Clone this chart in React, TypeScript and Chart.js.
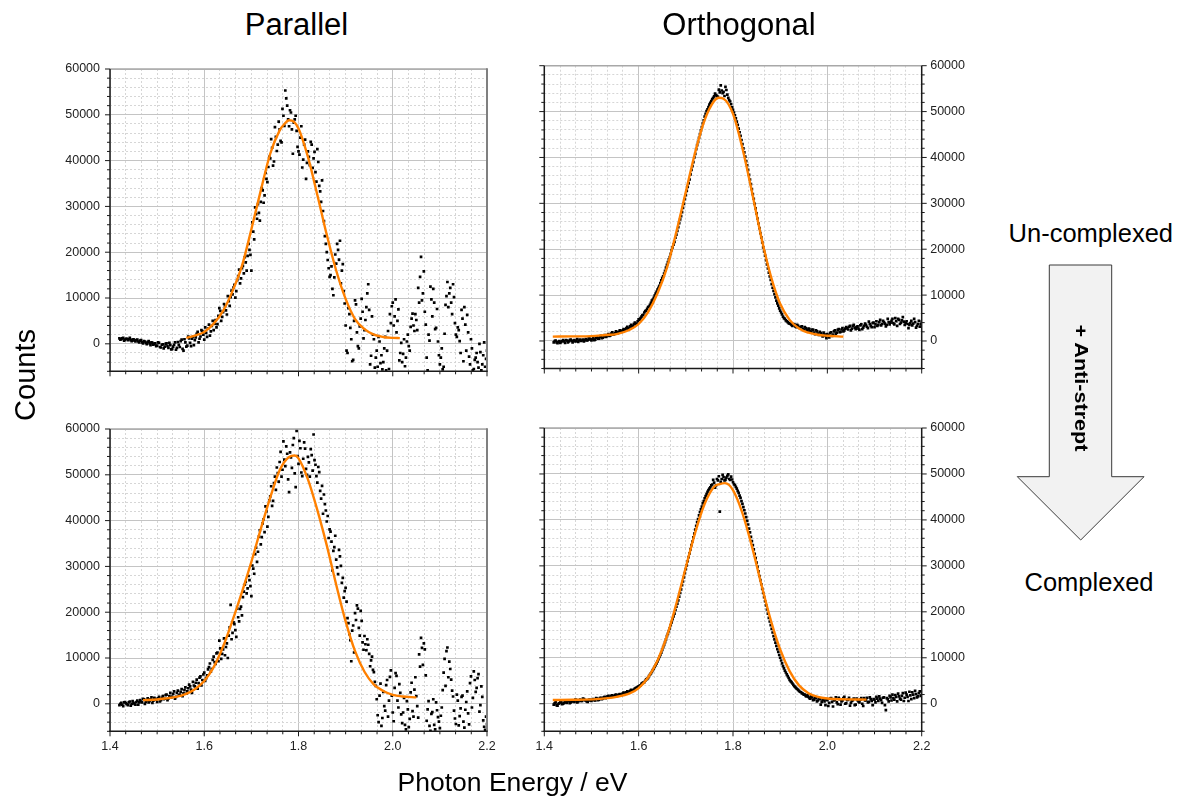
import React, { useEffect, useRef } from "react";
import { Chart, registerables } from "chart.js";

Chart.register(...registerables);

// ---------------- DATA ----------------
// Scan A energies (eV)
const energies = [
  1.420, 1.424, 1.428, 1.432, 1.436, 1.440, 1.444, 1.448, 1.452, 1.456,
  1.460, 1.464, 1.468, 1.472, 1.476, 1.480, 1.484, 1.488, 1.492, 1.496,
  1.500, 1.504, 1.508, 1.512, 1.516, 1.520, 1.524, 1.528, 1.532, 1.536,
  1.540, 1.544, 1.548, 1.552, 1.556, 1.560, 1.564, 1.568, 1.572, 1.576,
  1.580, 1.584, 1.588, 1.592, 1.596, 1.600, 1.604, 1.608, 1.612, 1.616,
  1.620, 1.624, 1.628, 1.632, 1.636, 1.640, 1.644, 1.648, 1.652, 1.656,
  1.660, 1.664, 1.668, 1.672, 1.676, 1.680, 1.684, 1.688, 1.692, 1.696,
  1.700, 1.704, 1.708, 1.712, 1.716, 1.720, 1.724, 1.728, 1.732, 1.736,
  1.740, 1.744, 1.748, 1.752, 1.756, 1.760, 1.764, 1.768, 1.772, 1.776,
  1.780, 1.784, 1.788, 1.792, 1.796, 1.800, 1.804, 1.808, 1.812, 1.816,
  1.820, 1.824, 1.828, 1.832, 1.836, 1.840, 1.844, 1.848, 1.852, 1.856,
  1.860, 1.864, 1.868, 1.872, 1.876, 1.880, 1.884, 1.888, 1.892, 1.896,
  1.900, 1.904, 1.908, 1.912, 1.916, 1.920, 1.924, 1.928, 1.932, 1.936,
  1.940, 1.944, 1.948, 1.952, 1.956, 1.960, 1.964, 1.968, 1.972, 1.976,
  1.980, 1.984, 1.988, 1.992, 1.996, 2.000, 2.004, 2.008, 2.012, 2.016,
  2.020, 2.024, 2.028, 2.032, 2.036, 2.040, 2.044, 2.048, 2.052, 2.056,
  2.060, 2.064, 2.068, 2.072, 2.076, 2.080, 2.084, 2.088, 2.092, 2.096,
  2.100, 2.104, 2.108, 2.112, 2.116, 2.120, 2.124, 2.128, 2.132, 2.136,
  2.140, 2.144, 2.148, 2.152, 2.156, 2.160, 2.164, 2.168, 2.172, 2.176,
  2.180, 2.184, 2.188, 2.192, 2.196, 2.200,
];

// Scan B energies (eV), interleaved with scan A
const energiesB = [
  1.422, 1.426, 1.430, 1.434, 1.438, 1.442, 1.446, 1.450, 1.454, 1.458,
  1.462, 1.466, 1.470, 1.474, 1.478, 1.482, 1.486, 1.490, 1.494, 1.498,
  1.502, 1.506, 1.510, 1.514, 1.518, 1.522, 1.526, 1.530, 1.534, 1.538,
  1.542, 1.546, 1.550, 1.554, 1.558, 1.562, 1.566, 1.570, 1.574, 1.578,
  1.582, 1.586, 1.590, 1.594, 1.598, 1.602, 1.606, 1.610, 1.614, 1.618,
  1.622, 1.626, 1.630, 1.634, 1.638, 1.642, 1.646, 1.650, 1.654, 1.658,
  1.662, 1.666, 1.670, 1.674, 1.678, 1.682, 1.686, 1.690, 1.694, 1.698,
  1.702, 1.706, 1.710, 1.714, 1.718, 1.722, 1.726, 1.730, 1.734, 1.738,
  1.742, 1.746, 1.750, 1.754, 1.758, 1.762, 1.766, 1.770, 1.774, 1.778,
  1.782, 1.786, 1.790, 1.794, 1.798, 1.802, 1.806, 1.810, 1.814, 1.818,
  1.822, 1.826, 1.830, 1.834, 1.838, 1.842, 1.846, 1.850, 1.854, 1.858,
  1.862, 1.866, 1.870, 1.874, 1.878, 1.882, 1.886, 1.890, 1.894, 1.898,
  1.902, 1.906, 1.910, 1.914, 1.918, 1.922, 1.926, 1.930, 1.934, 1.938,
  1.942, 1.946, 1.950, 1.954, 1.958, 1.962, 1.966, 1.970, 1.974, 1.978,
  1.982, 1.986, 1.990, 1.994, 1.998, 2.002, 2.006, 2.010, 2.014, 2.018,
  2.022, 2.026, 2.030, 2.034, 2.038, 2.042, 2.046, 2.050, 2.054, 2.058,
  2.062, 2.066, 2.070, 2.074, 2.078, 2.082, 2.086, 2.090, 2.094, 2.098,
  2.102, 2.106, 2.110, 2.114, 2.118, 2.122, 2.126, 2.130, 2.134, 2.138,
  2.142, 2.146, 2.150, 2.154, 2.158, 2.162, 2.166, 2.170, 2.174, 2.178,
  2.182, 2.186, 2.190, 2.194, 2.198,
];

// Parallel, un-complexed (top left)
const parallelUncomplexed = [
  1200, 1000, 1300, 900, 1100, 1000, 800, 900, 700, 800,
  500, 700, 300, 600, 200, 400, 100, 300, -200, 100,
  -400, 200, -800, -100, -600, 100, -900, -300, -1100, -200,
  -1300, 400, -700, 900, -1500, 300, -400, 1200, -500, 1500,
  800, 2200, 300, 1600, 2800, 900, 2400, 3300, 1800, 3900,
  3000, 5200, 4300, 7800, 5000, 6900, 8200, 6400, 9300, 10200,
  10800, 12900, 11500, 14800, 13200, 16500, 15400, 17800, 19200, 20500,
  16000, 24500, 29800, 27300, 28600, 31000, 33500, 32400, 36000, 38600,
  40500, 42800, 39800, 45200, 43500, 46800, 44000, 49800, 55300, 52000,
  47500, 50500, 41500, 49000, 46500, 42000, 45000, 38500, 43500, 36000,
  42000, 39000, 43500, 40500, 37500, 42500, 34500, 31000, 29000, 23500,
  20000, 16500, 15000, 12000, 14500, 17500, 20500, 22500, 16000, 11500,
  4000, -2000, 6500, 1000, -3500, 9500, 2500, -1000, 5500, 7000,
  3000, 8000, 13000, -4500, 6000, 1000, -3000, -5000, 500, -2500,
  -4000, 1500, -1500, -5500, 4500, 9000, 6000, 2500, 7500, -2000,
  -4000, 1000, -3000, 2000, -1500, 5500, 4000, 6500, 3000, 9000,
  19000, 11000, 7000, -3000, 2000, 12500, 6000, 9000, 3500, 500,
  -4500, -1000, -5000, 8500, 13500, 11000, 9000, 13000, 4500, 1500,
  3000, -2000, 5500, 8000, -1500, 2500, -4500, -1000, -5500, -3000,
  -4000, 0, -5800, -2500, -5000, -1500,
];
const parallelUncomplexedB = [
  900, 1200, 700, 1100, 800, 1300, 600, 1000, 500, 900,
  300, 800, 100, 500, -100, 600, -300, 200, 0, -500,
  300, -700, -200, -1000, 0, -500, 200, -1200, -600, 300,
  -900, -200, 600, -1100, 1000, -600, 1600, 200, 1100, -300,
  1400, 2600, 1100, 3000, 2000, 3600, 1500, 4200, 2700, 5000,
  4400, 3600, 6100, 7200, 5900, 8700, 7300, 10400, 8300, 11600,
  12300, 10100, 13900, 16200, 14300, 17000, 18900, 16000, 21800, 19400,
  26500, 22800, 28300, 30500, 26900, 34000, 30800, 37300, 35300, 40800,
  44700, 38900, 47300, 42100, 48500, 44300, 51300, 47600, 53600, 49000,
  51000, 46800, 48300, 49800, 43000, 41300, 47500, 40200, 44600, 39500,
  40800, 44100, 38400, 41900, 35400, 39700, 33300, 35700, 26800, 21800,
  18300, 14600, 16900, 10600, 19500, 21800, 18400, 13200, 17400, 8800,
  -1500, 7800, 3500, -3800, 5000, 8600, -500, 3800, 9800, 1200,
  5200, 11000, 7400, -2600, 2000, -5200, -1500, 1500, -4200, -5600,
  -1000, -5800, 2800, 6500, 8200, 4000, 9700, 5000, -3600, 200,
  -2200, -4900, 500, -500, 3700, 6600, 2800, 5200, 12200, 14600,
  9500, 15800, 4200, -5800, 700, 9700, 12000, 3200, 7600, -2500,
  -3000, -5600, 2200, 10400, 8000, 12200, 6500, 10200, 2000, 3600,
  600, 7400, -3800, 4200, 6300, -2800, 1000, -5800, -3500, -2000,
  -5200, -1800, -4500, 300, -3300,
];

// Orthogonal, un-complexed (top right)
const orthogonalUncomplexed = [
  -300, 100, -500, 0, -200, 200, -400, 100, -100, 300,
  -300, 200, 0, -200, 300, 100, -100, 400, 200, 500,
  100, 600, 300, 800, 500, 1100, 700, 1300, 1000, 1500,
  1200, 1900, 1500, 2100, 1700, 2300, 2000, 2600, 2400, 3100,
  2800, 3500, 3300, 4000, 3800, 4700, 5000, 5600, 6200, 6600,
  7400, 7900, 8800, 9400, 10300, 11200, 12000, 13200, 14100, 15300,
  16600, 17800, 19000, 20400, 21600, 23200, 24800, 26500, 28100, 29900,
  31800, 33600, 35200, 37300, 39000, 40800, 42700, 44300, 45900, 47400,
  48900, 50100, 51000, 51900, 52700, 53300, 53600, 53200, 54200, 54600,
  54300, 55400, 53700, 52500, 51600, 50400, 49200, 47800, 46300, 44700,
  42900, 41100, 39200, 37300, 35200, 33100, 31000, 28900, 26700, 24600,
  22600, 20400, 18600, 16700, 14900, 13300, 11600, 10200, 8800, 7700,
  6600, 5800, 5000, 4500, 4100, 3800, 3500, 3700, 3200, 3500,
  2900, 3100, 2600, 3000, 2400, 2700, 2100, 2500, 1800, 2300,
  1600, 2000, 1300, 1800, 1100, 1500, 800, 1900, 1400, 2300,
  1800, 2600, 2000, 2800, 2300, 3000, 2500, 3300, 2700, 3500,
  2600, 3200, 2400, 3600, 2900, 3800, 3100, 4200, 3300, 3900,
  3000, 4300, 3500, 4600, 3700, 4100, 3200, 4800, 3600, 4400,
  3900, 5000, 3300, 4600, 4000, 5200, 3500, 4300, 2800, 3900,
  3400, 4800, 2900, 3700, 3100, 4200,
];
const orthogonalUncomplexedB = [
  0, -300, -200, -400, 0, -100, 200, -300, 200, 0,
  100, -100, 400, 100, 0, 300, 200, 100, 500, 300,
  400, 200, 700, 500, 900, 600, 1000, 900, 1300, 1100,
  1600, 1400, 1700, 1900, 2000, 2100, 2300, 2400, 2800, 2700,
  3200, 3000, 3700, 3600, 4300, 4600, 5300, 5700, 6500, 7000,
  7500, 8300, 9000, 9900, 10700, 11600, 12600, 13700, 14700, 16000,
  17200, 18300, 19800, 21000, 22500, 24000, 25700, 27200, 29000, 30900,
  32700, 34400, 36300, 38100, 40000, 41800, 43400, 45100, 46600, 48100,
  49500, 50500, 51500, 52300, 53000, 53900, 53400, 54800, 55700, 54000,
  53400, 54700, 53000, 52200, 50900, 49800, 48500, 47100, 45500, 43800,
  42000, 40200, 38300, 36200, 34200, 32000, 29900, 27800, 25600, 23500,
  21500, 19500, 17600, 15800, 14100, 12400, 10900, 9500, 8200, 7100,
  6200, 5300, 4800, 4300, 3900, 3700, 3300, 3600, 3000, 3300,
  2800, 3200, 2400, 2800, 2200, 2600, 1900, 2400, 1500, 2100,
  1300, 1700, 1000, 1500, 600, 1200, 1700, 1100, 2100, 1600,
  2400, 1900, 2500, 2100, 2700, 2800, 3100, 2300, 3300, 2900,
  3000, 2700, 3400, 2600, 3300, 3500, 2800, 3700, 3000, 4000,
  3600, 3300, 4100, 3400, 4400, 3800, 3500, 4100, 4000, 4800,
  3600, 4300, 4800, 3700, 4500, 4200, 4000, 3700, 3500, 4400,
  3800, 4100, 3300, 4400, 3600,
];

// Parallel, complexed (bottom left)
const parallelComplexed = [
  -300, 200, -500, 400, -100, 300, -400, 600, 0, 400,
  -200, 800, 300, 1000, 400, 1200, 600, 1400, 700, 1100,
  400, 1500, 800, 1700, 1100, 2000, 1200, 2400, 1600, 2700,
  1500, 2900, 2000, 3200, 2300, 3600, 2700, 4200, 3100, 4800,
  3800, 5300, 4500, 6000, 5200, 6800, 5600, 7500, 8800, 7600,
  10300, 8700, 11200, 13800, 9800, 11900, 10600, 13200, 14900, 21600,
  15500, 17400, 14600, 18900, 20700, 19300, 24500, 26600, 25200, 27000,
  23500, 29500, 32700, 31000, 36500, 34800, 39400, 37500, 42000, 40800,
  45300, 43200, 48200, 46700, 50400, 52800, 49600, 57300, 51900, 54600,
  46200, 53800, 56500, 50300, 59600, 52400, 55800, 49700, 57100, 51300,
  53900, 49600, 54300, 58800, 52200, 48300, 50600, 44800, 41500, 43600,
  39800, 36200, 37600, 29100, 34200, 31500, 28300, 32200, 26400, 23200,
  25300, 18700, 15200, 9300, 17100, 19800, 21500, 16600, 20300, 13400,
  14800, 11700, 12900, 8200, 10300, 6900, 3900, -2500, 1800, -4800,
  2600, -1500, 5200, 700, 7300, -1900, 3500, 6100, -800, 2400,
  -4200, 1300, -5600, -1200, -3300, 4600, -2800, 5800, -500, 10800,
  14400, 8500, 11900, -3700, 600, -5900, -1800, -4600, 300, -2900,
  -5300, -800, 6800, 3900, 12300, 9200, 5300, 1600, -3200, 2000,
  -4700, -1000, 1800, -5200, 400, -2100, 4500, -800, 7100, 2600,
  5600, -1700, 3800, -3600, -5700, -4400,
];
const parallelComplexedB = [
  0, -200, 300, 100, -300, 500, 0, 200, -200, 700,
  300, 500, 1100, 0, 800, 300, 1000, 200, 1300, 900,
  1200, 500, 1300, 1000, 1900, 800, 1700, 1400, 2200, 1100,
  2400, 1800, 2600, 1700, 3000, 2200, 3400, 3800, 2400, 4000,
  4600, 3300, 5700, 4000, 6400, 5000, 6200, 8000, 7000, 9600,
  9100, 11000, 9300, 12100, 10900, 14300, 12400, 10000, 16700, 14100,
  17800, 16100, 20800, 18000, 21200, 23300, 26000, 24100, 27900, 25700,
  30200, 28400, 34100, 33200, 37900, 36400, 40300, 43100, 38700, 44400,
  47500, 44300, 49600, 51600, 48500, 55000, 51100, 53300, 56200, 49000,
  54900, 51500, 58000, 47300, 54100, 57400, 50500, 53500, 55700, 50000,
  52700, 55600, 50900, 53200, 49700, 51700, 46500, 47600, 45700, 42200,
  41000, 38100, 35400, 33400, 36700, 29800, 33600, 30100, 27500, 24600,
  22300, 17600, 13900, 16000, 11200, 18300, 20800, 14900, 18100, 11800,
  13000, 14100, 10900, 9500, 7400, 4800, 1000, -4000, 4400, -3100,
  -500, 4100, -2800, 5900, 1800, -3800, 6700, 700, 4300, -2300,
  -1900, -4600, 600, -5100, 2500, -1600, 3100, 1700, -3000, 8100,
  12200, 13200, 6200, -1200, -4800, -2200, 1000, -5600, -1400, -3900,
  -2600, 3000, 9800, 11500, 5800, 7600, 2900, -1500, -4400, 700,
  -2700, 1500, -3900, -1300, 2700, -4500, 6000, 1300, 5200, 3500,
  6500, -300, 1500, -5000, -2800,
];

// Orthogonal, complexed (bottom right)
const orthogonalComplexed = [
  -200, 300, -400, 100, 400, 0, 500, 200, 600, 300,
  700, 400, 800, 500, 900, 600, 1000, 700, 400, 900,
  600, 1000, 700, 1100, 900, 1300, 1100, 1500, 1300, 1700,
  1500, 1800, 1600, 2000, 1800, 2100, 1900, 2400, 2200, 2700,
  2600, 3000, 2900, 3300, 3500, 3800, 4000, 4500, 4700, 5300,
  5600, 6300, 6900, 7600, 8400, 9200, 10200, 11100, 12300, 13400,
  14700, 15800, 17100, 18400, 19600, 21100, 22500, 24100, 25800, 27500,
  29300, 31000, 32700, 34500, 36200, 37900, 39500, 41000, 42300, 43600,
  44700, 45600, 46500, 47100, 47700, 48100, 47500, 48600, 41800, 48900,
  49300, 48700, 49600, 48900, 49400, 48200, 47600, 46800, 45900, 44800,
  43500, 42100, 40600, 39000, 37300, 35400, 33600, 31700, 29800, 27800,
  26000, 24100, 22300, 20500, 18700, 17100, 15500, 14000, 12600, 11300,
  10000, 8800, 7700, 6800, 6000, 5200, 4700, 4100, 3600, 3200,
  2800, 2500, 2200, 2000, 1600, 1500, 1100, 1400, 900, 1200,
  700, 1000, 400, 1100, -300, 800, 200, 1200, -600, 900,
  300, 1300, -200, 700, 1500, 100, 900, -400, 600, 1100,
  -200, 800, 300, 1200, -500, 700, 1300, 400, 1000, -300,
  900, 1500, 600, 1100, 200, 1400, -1400, 1000, 1700, 700,
  1200, 1900, 500, 1600, 900, 2300, 1300, 2000, 600, 1800,
  2500, 1200, 2100, 1600, 2700, 1900,
];
const orthogonalComplexedB = [
  100, -300, 0, 300, -100, 200, 300, 600, 100, 500,
  500, 900, 300, 700, 600, 1100, 800, 500, 800, 700,
  900, 800, 1200, 800, 1200, 1000, 1400, 1200, 1600, 1400,
  1700, 1600, 1900, 1700, 2000, 2000, 2200, 2300, 2500, 2500,
  2800, 2900, 3100, 3400, 3600, 3900, 4300, 4600, 5000, 5400,
  6000, 6600, 7300, 8000, 8800, 9700, 10600, 11700, 12800, 14000,
  15200, 16400, 17700, 19000, 20400, 21800, 23300, 24900, 26600, 28400,
  30100, 31900, 33600, 35300, 37000, 38700, 40200, 41700, 42900, 44100,
  45200, 46100, 46800, 47500, 48700, 47000, 48900, 49500, 48300, 49800,
  48600, 49200, 49900, 48700, 48800, 47800, 47200, 46300, 45300, 44100,
  42800, 41400, 39800, 38100, 36300, 34500, 32600, 30700, 28800, 26900,
  25000, 23200, 21400, 19600, 17900, 16300, 14700, 13300, 11900, 10600,
  9400, 8200, 7200, 6400, 5600, 4900, 4400, 3800, 3400, 3000,
  2600, 2300, 2000, 1700, 1900, 1200, 1600, 800, 1300, 500,
  1200, -200, 900, 500, 1000, -500, 1100, 400, 700, 1400,
  -100, 1000, 500, 1200, 0, 800, 1300, 200, 800, -300,
  1100, 500, 900, 0, 1200, 800, 300, 1400, 600, 1000,
  300, 1100, 1600, 800, 1300, -300, 1200, 500, 1400, 2000,
  900, 1500, 2200, 1100, 1700, 600, 2400, 1500, 2600, 1000,
  2000, 2800, 1400, 2300, 1700,
];

// Gaussian fits (orange curves)
const fitParallelUncomplexedX = [1.562, 1.58, 1.60, 1.62, 1.64, 1.66, 1.68, 1.70, 1.72, 1.74, 1.76, 1.77, 1.78, 1.79, 1.80, 1.82, 1.84, 1.86, 1.88, 1.90, 1.92, 1.94, 1.96, 1.98, 2.00, 2.015];
const fitParallelUncomplexedY = [1300, 1800, 2600, 4400, 7200, 11500, 17000, 25000, 33500, 41500, 46600, 48000, 48800, 48500, 47000, 40800, 32500, 23800, 16000, 9800, 5400, 3200, 2000, 1500, 1300, 1250];

const fitOrthogonalUncomplexedX = [1.418, 1.46, 1.50, 1.53, 1.553, 1.58, 1.60, 1.62, 1.64, 1.66, 1.68, 1.70, 1.72, 1.74, 1.76, 1.77, 1.78, 1.80, 1.82, 1.84, 1.86, 1.88, 1.90, 1.92, 1.94, 1.96, 1.98, 2.00, 2.034];
const fitOrthogonalUncomplexedY = [950, 1000, 1050, 1300, 1500, 2400, 3700, 6300, 10400, 16000, 23800, 32500, 41200, 48200, 52300, 53000, 52800, 49500, 42000, 32600, 22600, 14200, 8100, 4600, 2700, 1800, 1350, 1150, 950];

const fitParallelComplexedX = [1.47, 1.50, 1.52, 1.54, 1.56, 1.58, 1.60, 1.62, 1.64, 1.66, 1.68, 1.70, 1.72, 1.74, 1.76, 1.78, 1.792, 1.80, 1.82, 1.84, 1.86, 1.88, 1.90, 1.92, 1.94, 1.96, 1.98, 2.00, 2.02, 2.05];
const fitParallelComplexedY = [800, 950, 1200, 1500, 2100, 3200, 5000, 8000, 12500, 18200, 24400, 31000, 38200, 45000, 51000, 53900, 54200, 53600, 49000, 42300, 34600, 26000, 18000, 11500, 7000, 4200, 2800, 1950, 1600, 1400];

const fitOrthogonalComplexedX = [1.418, 1.46, 1.511, 1.553, 1.582, 1.60, 1.62, 1.64, 1.66, 1.68, 1.70, 1.72, 1.74, 1.76, 1.772, 1.783, 1.80, 1.82, 1.84, 1.86, 1.88, 1.90, 1.92, 1.94, 1.96, 1.98, 2.00, 2.04, 2.083];
const fitOrthogonalComplexedY = [800, 850, 1000, 1500, 2300, 3400, 5700, 9400, 14700, 21800, 29700, 37300, 43500, 47200, 47800, 48000, 46500, 41500, 34300, 26000, 18200, 11800, 7100, 4000, 2300, 1500, 1150, 950, 900];

// Axes
const xMin = 1.4;
const xMax = 2.2;
const xMajorTicks = [1.4, 1.6, 1.8, 2.0, 2.2];
const xMinorDivisions = 6;
const yMin = -6000;
const yMax = 60000;
const yMajorTicks = [0, 10000, 20000, 30000, 40000, 50000, 60000];
const yMinorStep = 2000;

// ---------------- STYLE ----------------
const FONT = '"Liberation Sans", Arial, Helvetica, sans-serif';
const FIT_COLOR = "#ff8000";

type Area = { left: number; top: number; right: number; bottom: number };
type PanelSpec = {
  area: Area;
  side: "left" | "right";
  showXLabels: boolean;
  values: number[];
  valuesB: number[];
  fitX: number[];
  fitY: number[];
};

function buildXTicks() {
  const out: { value: number; major: boolean }[] = [];
  for (let m = 0; m < xMajorTicks.length; m++) {
    out.push({ value: xMajorTicks[m], major: true });
    if (m < xMajorTicks.length - 1) {
      const step = (xMajorTicks[m + 1] - xMajorTicks[m]) / xMinorDivisions;
      for (let k = 1; k < xMinorDivisions; k++) out.push({ value: xMajorTicks[m] + k * step, major: false });
    }
  }
  return out;
}

function buildYTicks() {
  const out: { value: number; major: boolean }[] = [];
  for (let v = yMin; v <= yMax; v += yMinorStep) out.push({ value: v, major: yMajorTicks.includes(v) });
  return out;
}

const frameTicksPlugin = {
  id: "frameTicks",
  afterDraw(chart: any, _args: any, opts: any) {
    const { ctx, chartArea: a } = chart;
    const xs = chart.scales.x;
    const ys = chart.scales.y;
    const dark = "#1a1a1a";
    const seg = (x1: number, y1: number, x2: number, y2: number, color: string, w: number) => {
      ctx.beginPath();
      ctx.strokeStyle = color;
      ctx.lineWidth = w;
      ctx.moveTo(x1, y1);
      ctx.lineTo(x2, y2);
      ctx.stroke();
    };
    ctx.save();
    seg(a.left, a.top, a.right, a.top, "#a8a8a8", 1.5);
    if (opts.side === "left") seg(a.right, a.top - 0.75, a.right, a.bottom, "#808080", 2);
    xs.ticks.forEach((t: any) => {
      const p = xs.getPixelForValue(t.value);
      seg(p, a.bottom, p, a.bottom + (t.major ? 5 : 3), dark, 1);
    });
    ys.ticks.forEach((t: any) => {
      const p = ys.getPixelForValue(t.value);
      const len = t.major ? 5 : 3;
      seg(a.left, p, a.left - len, p, dark, 1);
      if (opts.side === "right") seg(a.right, p, a.right + len, p, dark, 1);
    });
    seg(a.left, a.top, a.left, a.bottom + 0.75, dark, 1.5);
    if (opts.side === "right") seg(a.right, a.top, a.right, a.bottom + 0.75, dark, 1.5);
    seg(a.left - 0.75, a.bottom, a.right + 0.75, a.bottom, dark, 1.5);
    ctx.restore();
  },
};

function Panel({ spec }: { spec: PanelSpec }) {
  const ref = useRef<HTMLCanvasElement>(null);
  const a = spec.area;
  const cl = Math.floor(a.left) - 70;
  const ct = Math.floor(a.top) - 26;
  const cr = Math.ceil(a.right) + 70;
  const cb = Math.ceil(a.bottom) + 40;
  const w = cr - cl;
  const h = cb - ct;

  useEffect(() => {
    if (!ref.current) return;
    const pointsA = energies.map((e, i) => ({ x: e, y: spec.values[i] }));
    const pointsB = energiesB.map((e, i) => ({ x: e, y: spec.valuesB[i] }));
    const fit = spec.fitX.map((e, i) => ({ x: e, y: spec.fitY[i] }));
    const yAxisWidth = spec.side === "left" ? a.left - cl : cr - a.right;
    const padding =
      spec.side === "left"
        ? { top: a.top - ct, right: cr - a.right, left: 0, bottom: 0 }
        : { top: a.top - ct, left: a.left - cl, right: 0, bottom: 0 };
    const tickFont = { family: FONT, size: 12.5 };
    const dotStyle = {
      showLine: false,
      pointStyle: "rect",
      pointRadius: 1.9,
      pointHoverRadius: 0,
      pointBorderWidth: 0,
      backgroundColor: "#000000",
      borderColor: "#000000",
    };

    const chart = new Chart(ref.current, {
      type: "scatter",
      data: {
        datasets: [
          {
            label: "fit",
            data: fit,
            showLine: true,
            borderColor: FIT_COLOR,
            backgroundColor: FIT_COLOR,
            borderWidth: 2.4,
            pointRadius: 0,
            pointHoverRadius: 0,
            cubicInterpolationMode: "monotone",
            fill: false,
          } as any,
          { label: "scan A", data: pointsA, ...dotStyle } as any,
          { label: "scan B", data: pointsB, ...dotStyle } as any,
        ],
      },
      options: {
        responsive: false,
        animation: false,
        devicePixelRatio: 1,
        events: [],
        layout: { padding, autoPadding: false },
        plugins: {
          legend: { display: false },
          tooltip: { enabled: false },
          frameTicks: { side: spec.side },
        } as any,
        scales: {
          x: {
            type: "linear",
            min: xMin,
            max: xMax,
            position: "bottom",
            afterBuildTicks: (scale: any) => {
              scale.ticks = buildXTicks();
            },
            afterFit: (scale: any) => {
              scale.height = cb - a.bottom;
            },
            grid: {
              drawTicks: false,
              color: (c: any) => (c.tick && c.tick.major ? "#c4c4c4" : "#d6d6d6"),
              lineWidth: 1,
            },
            border: {
              display: false,
              dash: (c: any) => (c.tick && c.tick.major ? [] : [2, 2]),
            },
            ticks: {
              display: spec.showXLabels,
              autoSkip: false,
              maxRotation: 0,
              padding: 8,
              color: "#222222",
              font: tickFont,
              callback: (v: any, i: number, ticks: any[]) => (ticks[i] && ticks[i].major ? Number(v).toFixed(1) : ""),
            },
          } as any,
          y: {
            type: "linear",
            min: yMin,
            max: yMax,
            position: spec.side,
            afterBuildTicks: (scale: any) => {
              scale.ticks = buildYTicks();
            },
            afterFit: (scale: any) => {
              scale.width = yAxisWidth;
            },
            grid: {
              drawTicks: false,
              color: (c: any) => (c.tick && c.tick.major ? "#c4c4c4" : "#d6d6d6"),
              lineWidth: 1,
            },
            border: {
              display: false,
              dash: (c: any) => (c.tick && c.tick.major ? [] : [2, 2]),
            },
            ticks: {
              autoSkip: false,
              padding: spec.side === "left" ? 10 : 8.5,
              color: "#222222",
              font: tickFont,
              callback: (v: any, i: number, ticks: any[]) => (ticks[i] && ticks[i].major ? String(Math.round(Number(v))) : ""),
            },
          } as any,
        },
      },
      plugins: [frameTicksPlugin as any],
    });
    return () => chart.destroy();
  }, []);

  return (
    <canvas
      ref={ref}
      width={w}
      height={h}
      style={{ position: "absolute", left: cl, top: ct, width: w, height: h }}
    />
  );
}

const panels: PanelSpec[] = [
  { area: { left: 110, top: 69, right: 487, bottom: 371.3 }, side: "left", showXLabels: false, values: parallelUncomplexed, valuesB: parallelUncomplexedB, fitX: fitParallelUncomplexedX, fitY: fitParallelUncomplexedY },
  { area: { left: 544.3, top: 65.7, right: 921.7, bottom: 368.5 }, side: "right", showXLabels: false, values: orthogonalUncomplexed, valuesB: orthogonalUncomplexedB, fitX: fitOrthogonalUncomplexedX, fitY: fitOrthogonalUncomplexedY },
  { area: { left: 110, top: 429, right: 487, bottom: 731.3 }, side: "left", showXLabels: true, values: parallelComplexed, valuesB: parallelComplexedB, fitX: fitParallelComplexedX, fitY: fitParallelComplexedY },
  { area: { left: 544.3, top: 428, right: 921.7, bottom: 731.3 }, side: "right", showXLabels: true, values: orthogonalComplexed, valuesB: orthogonalComplexedB, fitX: fitOrthogonalComplexedX, fitY: fitOrthogonalComplexedY },
];

function Label({ text, cx, baseline, size, bold = false }: { text: string; cx: number; baseline: number; size: number; bold?: boolean }) {
  return (
    <div
      style={{
        position: "absolute",
        left: cx,
        top: baseline - 0.8465 * size,
        transform: "translateX(-50%)",
        fontFamily: FONT,
        fontSize: size,
        lineHeight: `${size}px`,
        fontWeight: bold ? 700 : 400,
        whiteSpace: "nowrap",
        color: "#000",
      }}
    >
      {text}
    </div>
  );
}

export default function App() {
  return (
    <div
      style={{
        position: "absolute",
        left: 0,
        top: 0,
        width: 1188,
        height: 799,
        overflow: "hidden",
        background: "#ffffff",
      }}
    >
      {panels.map((p, i) => (
        <Panel key={i} spec={p} />
      ))}

      <Label text="Parallel" cx={296.5} baseline={35.7} size={31} />
      <Label text="Orthogonal" cx={739} baseline={35.7} size={31} />
      <Label text="Photon Energy / eV" cx={512.5} baseline={791.7} size={26.5} />
      <Label text="Un-complexed" cx={1090.8} baseline={242.7} size={25.5} />
      <Label text="Complexed" cx={1089} baseline={592} size={25.5} />

      <div
        style={{
          position: "absolute",
          left: 25,
          top: 375,
          transform: "translate(-50%, -50%) rotate(-90deg)",
          fontFamily: FONT,
          fontSize: 29,
          lineHeight: "29px",
          whiteSpace: "nowrap",
          color: "#000",
        }}
      >
        Counts
      </div>

      <svg
        width={1188}
        height={799}
        style={{ position: "absolute", left: 0, top: 0, pointerEvents: "none" }}
      >
        <polygon
          points="1049.3,265 1111.7,265 1111.7,476.7 1144,476.7 1080.7,540 1017.3,476.7 1049.3,476.7"
          fill="#f2f2f2"
          stroke="#3a3a3a"
          strokeWidth={1}
        />
      </svg>

      <div
        style={{
          position: "absolute",
          left: 1080.5,
          top: 387.5,
          transform: "translate(-50%, -50%) rotate(90deg) scaleX(1.2)",
          fontFamily: FONT,
          fontSize: 18,
          lineHeight: "18px",
          fontWeight: 700,
          whiteSpace: "nowrap",
          color: "#000",
        }}
      >
        + Anti-strept
      </div>
    </div>
  );
}
